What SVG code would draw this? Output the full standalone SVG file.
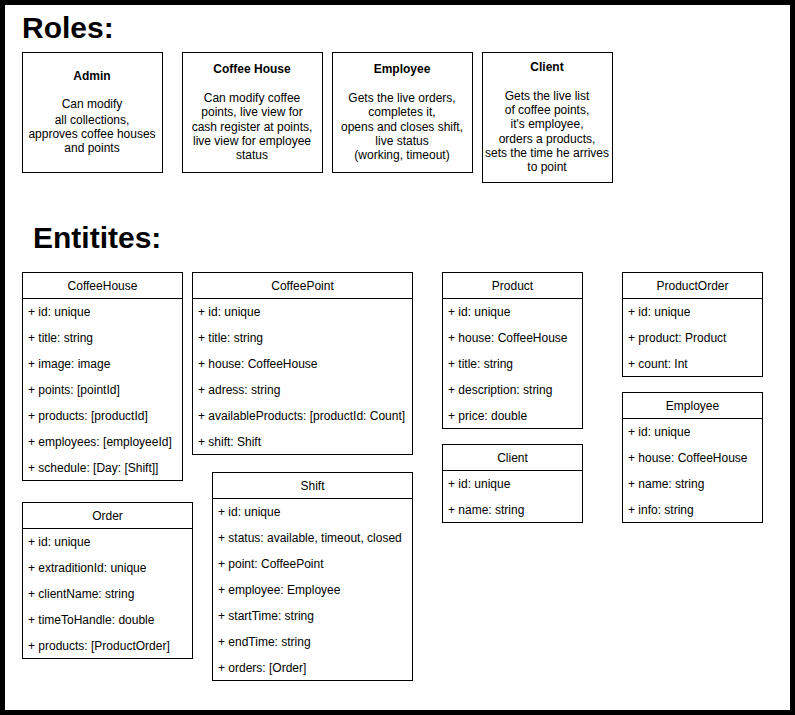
<svg xmlns="http://www.w3.org/2000/svg" width="795" height="715" viewBox="0 0 795 715">
<style>
  text { font-family: "Liberation Sans", Arial, Helvetica, sans-serif; fill: #000; }
  .h1 { font-size: 30px; font-weight: bold; }
  .rt { font-size: 12px; font-weight: bold; text-anchor: middle; }
  .rd { font-size: 12px; text-anchor: middle; }
  .th { font-size: 12px; text-anchor: middle; }
  .tr { font-size: 12px; }
  .box { fill: #fff; stroke: #000; stroke-width: 1; }
  .ln { stroke: #000; stroke-width: 1; }
</style>
<rect x="0" y="0" width="795" height="715" fill="#fff"/>
<rect x="2.5" y="2.5" width="790" height="710" fill="none" stroke="#000" stroke-width="5"/>
<text class="h1" x="22" y="38">Roles:</text>
<text class="h1" x="33" y="248">Entitites:</text>

<g id="role-admin">
  <rect class="box" x="22.5" y="52.5" width="140" height="120"/>
  <text class="rt" x="92" y="80">Admin</text>
  <text class="rd" x="92" y="108">Can modify</text>
  <text class="rd" x="92" y="124">all collections,</text>
  <text class="rd" x="92" y="138">approves coffee houses</text>
  <text class="rd" x="92" y="152">and points</text>
</g>
<g id="role-coffeehouse">
  <rect class="box" x="182.5" y="52.5" width="140" height="120"/>
  <text class="rt" x="252" y="73">Coffee House</text>
  <text class="rd" x="252" y="102">Can modify coffee</text>
  <text class="rd" x="252" y="116">points, live view for</text>
  <text class="rd" x="252" y="131">cash register at points,</text>
  <text class="rd" x="252" y="145">live view for employee</text>
  <text class="rd" x="252" y="159">status</text>
</g>
<g id="role-employee">
  <rect class="box" x="332.5" y="52.5" width="140" height="120"/>
  <text class="rt" x="402" y="73">Employee</text>
  <text class="rd" x="402" y="102">Gets the live orders,</text>
  <text class="rd" x="402" y="116">completes it,</text>
  <text class="rd" x="402" y="131">opens and closes shift,</text>
  <text class="rd" x="402" y="145">live status</text>
  <text class="rd" x="402" y="159">(working, timeout)</text>
</g>
<g id="role-client">
  <rect class="box" x="482.5" y="52.5" width="130" height="130"/>
  <text class="rt" x="547" y="71">Client</text>
  <text class="rd" x="547" y="100">Gets the live list</text>
  <text class="rd" x="547" y="114">of coffee points,</text>
  <text class="rd" x="547" y="128">it's employee,</text>
  <text class="rd" x="547" y="143">orders a products,</text>
  <text class="rd" x="547" y="157">sets the time he arrives</text>
  <text class="rd" x="547" y="171">to point</text>
</g>

<g id="entity-coffeehouse">
  <rect class="box" x="22.5" y="272.5" width="160" height="208"/>
  <line class="ln" x1="22.5" y1="298.5" x2="182.5" y2="298.5"/>
  <text class="th" x="102.5" y="290">CoffeeHouse</text>
  <text class="tr" x="28" y="316">+ id: unique</text>
  <text class="tr" x="28" y="342">+ title: string</text>
  <text class="tr" x="28" y="368">+ image: image</text>
  <text class="tr" x="28" y="394">+ points: [pointId]</text>
  <text class="tr" x="28" y="420">+ products: [productId]</text>
  <text class="tr" x="28" y="446">+ employees: [employeeId]</text>
  <text class="tr" x="28" y="472">+ schedule: [Day: [Shift]]</text>
</g>
<g id="entity-coffeepoint">
  <rect class="box" x="192.5" y="272.5" width="220" height="182"/>
  <line class="ln" x1="192.5" y1="298.5" x2="412.5" y2="298.5"/>
  <text class="th" x="302.5" y="290">CoffeePoint</text>
  <text class="tr" x="198" y="316">+ id: unique</text>
  <text class="tr" x="198" y="342">+ title: string</text>
  <text class="tr" x="198" y="368">+ house: CoffeeHouse</text>
  <text class="tr" x="198" y="394">+ adress: string</text>
  <text class="tr" x="198" y="420">+ availableProducts: [productId: Count]</text>
  <text class="tr" x="198" y="446">+ shift: Shift</text>
</g>
<g id="entity-shift">
  <rect class="box" x="212.5" y="472.5" width="200" height="208"/>
  <line class="ln" x1="212.5" y1="498.5" x2="412.5" y2="498.5"/>
  <text class="th" x="312.5" y="490">Shift</text>
  <text class="tr" x="218" y="516">+ id: unique</text>
  <text class="tr" x="218" y="542">+ status: available, timeout, closed</text>
  <text class="tr" x="218" y="568">+ point: CoffeePoint</text>
  <text class="tr" x="218" y="594">+ employee: Employee</text>
  <text class="tr" x="218" y="620">+ startTime: string</text>
  <text class="tr" x="218" y="646">+ endTime: string</text>
  <text class="tr" x="218" y="672">+ orders: [Order]</text>
</g>
<g id="entity-order">
  <rect class="box" x="22.5" y="502.5" width="170" height="156"/>
  <line class="ln" x1="22.5" y1="528.5" x2="192.5" y2="528.5"/>
  <text class="th" x="107.5" y="520">Order</text>
  <text class="tr" x="28" y="546">+ id: unique</text>
  <text class="tr" x="28" y="572">+ extraditionId: unique</text>
  <text class="tr" x="28" y="598">+ clientName: string</text>
  <text class="tr" x="28" y="624">+ timeToHandle: double</text>
  <text class="tr" x="28" y="650">+ products: [ProductOrder]</text>
</g>
<g id="entity-product">
  <rect class="box" x="442.5" y="272.5" width="140" height="156"/>
  <line class="ln" x1="442.5" y1="298.5" x2="582.5" y2="298.5"/>
  <text class="th" x="512.5" y="290">Product</text>
  <text class="tr" x="448" y="316">+ id: unique</text>
  <text class="tr" x="448" y="342">+ house: CoffeeHouse</text>
  <text class="tr" x="448" y="368">+ title: string</text>
  <text class="tr" x="448" y="394">+ description: string</text>
  <text class="tr" x="448" y="420">+ price: double</text>
</g>
<g id="entity-client">
  <rect class="box" x="442.5" y="444.5" width="140" height="78"/>
  <line class="ln" x1="442.5" y1="470.5" x2="582.5" y2="470.5"/>
  <text class="th" x="512.5" y="462">Client</text>
  <text class="tr" x="448" y="488">+ id: unique</text>
  <text class="tr" x="448" y="514">+ name: string</text>
</g>
<g id="entity-productorder">
  <rect class="box" x="622.5" y="272.5" width="140" height="104"/>
  <line class="ln" x1="622.5" y1="298.5" x2="762.5" y2="298.5"/>
  <text class="th" x="692.5" y="290">ProductOrder</text>
  <text class="tr" x="628" y="316">+ id: unique</text>
  <text class="tr" x="628" y="342">+ product: Product</text>
  <text class="tr" x="628" y="368">+ count: Int</text>
</g>
<g id="entity-employee">
  <rect class="box" x="622.5" y="392.5" width="140" height="130"/>
  <line class="ln" x1="622.5" y1="418.5" x2="762.5" y2="418.5"/>
  <text class="th" x="692.5" y="410">Employee</text>
  <text class="tr" x="628" y="436">+ id: unique</text>
  <text class="tr" x="628" y="462">+ house: CoffeeHouse</text>
  <text class="tr" x="628" y="488">+ name: string</text>
  <text class="tr" x="628" y="514">+ info: string</text>
</g>
<g id="connectors"></g>
</svg>
